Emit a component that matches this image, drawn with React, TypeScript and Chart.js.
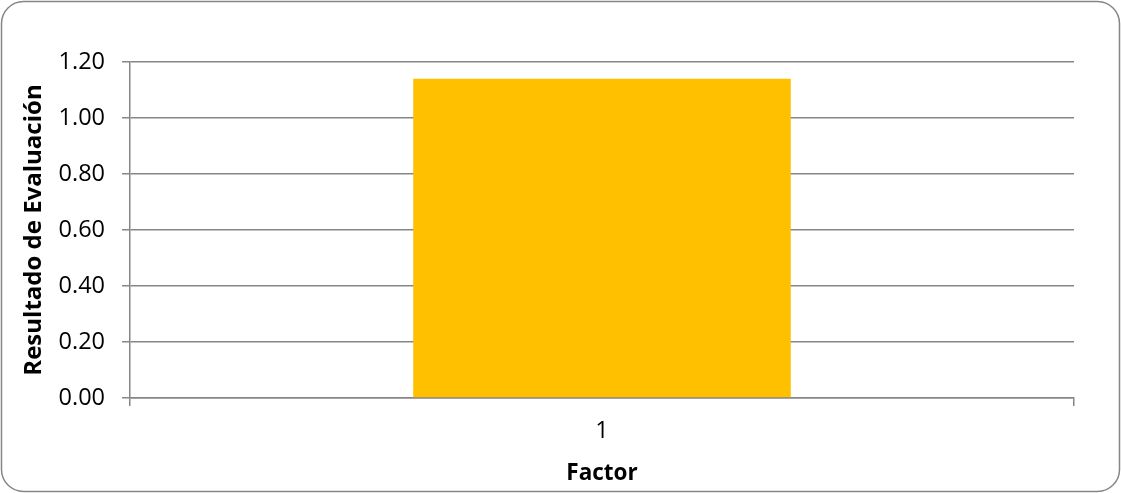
import React, { useEffect, useRef } from "react";
import { Chart, registerables } from "chart.js";

Chart.register(...registerables);

const categories = ["1"];
const values = [1.14];
const yTicks = [0, 0.2, 0.4, 0.6, 0.8, 1.0, 1.2];
const xTitle = "Factor";
const yTitle = "Resultado de Evaluación";

const FONT = "'Open Sans', Lato, sans-serif";
const GRID = "#868686";

const borderPlugin = {
  id: "roundBorder",
  afterDraw(chart: any) {
    const ctx = chart.ctx;
    ctx.save();
    ctx.strokeStyle = GRID;
    ctx.lineWidth = 1.5;
    ctx.beginPath();
    (ctx as any).roundRect(1.5, 1.5, chart.width - 3, chart.height - 3, 22);
    ctx.stroke();
    ctx.restore();
  },
};

export default function App() {
  const ref = useRef<HTMLCanvasElement | null>(null);
  useEffect(() => {
    if (!ref.current) return;
    const chart = new Chart(ref.current, {
      type: "bar",
      data: {
        labels: categories,
        datasets: [
          {
            data: values,
            backgroundColor: "#FFC000",
            borderWidth: 0,
            barPercentage: 0.4,
            categoryPercentage: 1,
          },
        ],
      },
      options: {
        animation: false,
        responsive: false,
        maintainAspectRatio: false,
        layout: { padding: { left: 16, right: 47, top: 62, bottom: 2 } },
        plugins: { legend: { display: false }, tooltip: { enabled: false } },
        scales: {
          x: {
            offset: true,
            grid: {
              display: true,
              offset: true,
              drawOnChartArea: false,
              drawTicks: true,
              tickLength: 8,
              color: GRID,
              lineWidth: 1.5,
            },
            border: { display: true, color: GRID, width: 1.5 },
            ticks: { font: { family: FONT, size: 23.5 }, color: "#000", padding: 11 },
            title: {
              display: true,
              text: xTitle,
              font: { family: FONT, size: 22.5, weight: "bold" },
              color: "#000",
            },
            afterFit(scale: any) {
              scale.height = 93;
            },
          },
          y: {
            min: 0,
            max: 1.2,
            afterBuildTicks(scale: any) {
              scale.ticks = yTicks.map((v) => ({ value: v }));
            },
            grid: { color: GRID, lineWidth: 1.5, tickLength: 8, drawTicks: true },
            border: { display: true, color: GRID, width: 1.5 },
            ticks: {
              font: { family: FONT, size: 23.5 },
              color: "#000",
              padding: 17,
              callback: (v: any) => Number(v).toFixed(2),
            },
            title: {
              display: true,
              text: yTitle,
              font: { family: FONT, size: 24, weight: "bold" },
              color: "#000",
            },
            afterFit(scale: any) {
              scale.width = 114;
            },
          },
        },
      },
      plugins: [borderPlugin],
    });
    return () => chart.destroy();
  }, []);
  return (
    <div style={{ position: "fixed", left: 0, top: 0, width: 1121, height: 493, background: "#fff" }}>
      <canvas ref={ref} width={1121} height={493} style={{ display: "block" }} />
    </div>
  );
}
